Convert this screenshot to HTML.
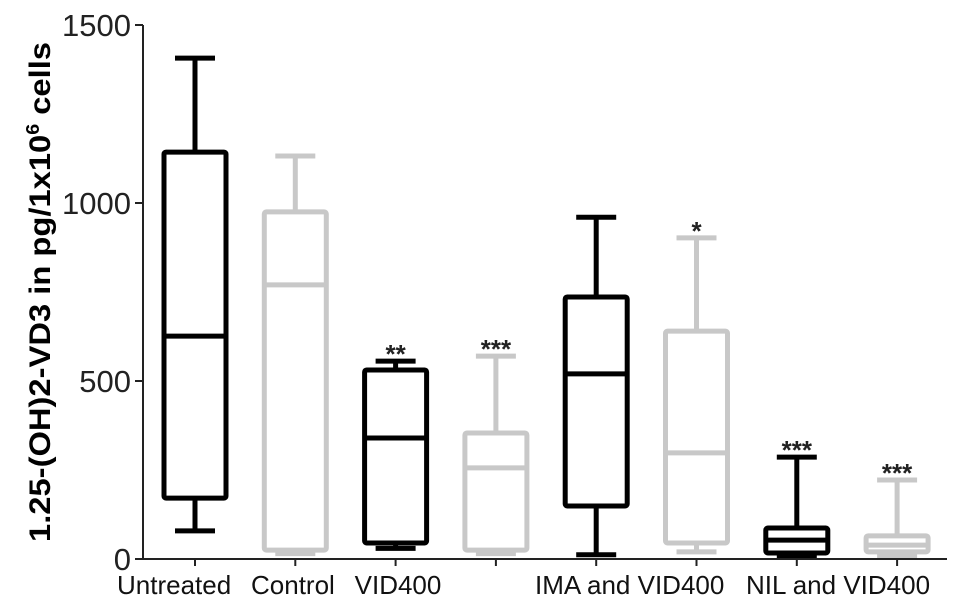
<!DOCTYPE html>
<html><head><meta charset="utf-8"><style>
body{margin:0;background:#fff;}
svg{display:block;font-family:"Liberation Sans",Arial,sans-serif;}
</style></head><body>
<svg id="chart" width="969" height="611">
<g id="axes"></g><g id="boxes"></g>
<text transform="translate(50,292) rotate(-90)" text-anchor="middle" font-size="30" font-weight="bold" textLength="500" lengthAdjust="spacingAndGlyphs">1.25-(OH)2-VD3 in pg/1x10<tspan dy="-11" font-size="18">6</tspan><tspan dy="11"> cells</tspan></text>
<g font-size="26" fill="#111">
<text x="117" y="594">Untreated</text>
<text x="251" y="594">Control</text>
<text x="398" y="594" text-anchor="middle">VID400</text>
<text x="535" y="594">IMA and VID400</text>
<text x="746" y="594">NIL and VID400</text>
</g>
</svg>
<script>
const groups=["Untreated","Control","VID400","VID400 grey","IMA and VID400","IMA grey","NIL and VID400","NIL grey"];
const maxV=[1407,1132,556,570,960,902,286,222];
const q3V=[1143,975,531,354,736,640,87,65];
const medV=[626,770,340,256,520,298,53,39];
const q1V=[171,25,45,25,149,45,17,20];
const minV=[79,15,30,15,12,20,10,10];
const stars=["","","**","***","","*","***","***"];
const yTicks=[0,500,1000,1500];
const NS="http://www.w3.org/2000/svg";
const y=v=>559-v*0.356;
const x=i=>195+i*100.3;
function mk(p,t,a){const e=document.createElementNS(NS,t);for(const k in a)e.setAttribute(k,a[k]);p.appendChild(e);return e;}
const ax=document.getElementById('axes');
let l=mk(ax,'line',{x1:143,y1:y(1500),x2:143,y2:559,stroke:'#222','stroke-width':2});


l=mk(ax,'line',{x1:143,y1:559,x2:947,y2:559,stroke:'#222','stroke-width':2});


yTicks.forEach(t=>{
 mk(ax,'line',{x1:135,y1:y(t),x2:143,y2:y(t),stroke:'#222','stroke-width':2});
 const tx=mk(ax,'text',{x:131,y:y(t)+11,'text-anchor':'end','font-size':31,fill:'#222'});
 tx.textContent=t;
 
 
});
groups.forEach((g,i)=>mk(ax,'line',{x1:x(i),y1:559,x2:x(i),y2:566,stroke:'#222','stroke-width':2}));
const bx=document.getElementById('boxes');
groups.forEach((g,i)=>{
 const c=i%2?'#c8c8c8':'#000';const cx=x(i);
 const gg=mk(bx,'g',{stroke:c,'stroke-width':5,fill:'none'});
 
 
 mk(gg,'line',{x1:cx,y1:y(maxV[i]),x2:cx,y2:y(q3V[i])});
 mk(gg,'line',{x1:cx,y1:y(q1V[i]),x2:cx,y2:y(minV[i])});
 mk(gg,'line',{x1:cx-20,y1:y(maxV[i]),x2:cx+20,y2:y(maxV[i])});
 mk(gg,'line',{x1:cx-20,y1:y(minV[i]),x2:cx+20,y2:y(minV[i])});
 mk(gg,'rect',{x:cx-31,y:y(q3V[i]),width:62,height:y(q1V[i])-y(q3V[i]),rx:2});
 mk(gg,'line',{x1:cx-31,y1:y(medV[i]),x2:cx+31,y2:y(medV[i])});
 if(stars[i]){const s=mk(bx,'text',{x:cx,y:y(maxV[i])+2,'text-anchor':'middle','font-size':26,'font-weight':'bold',fill:'#222'});
  s.textContent=stars[i];
  
  }
});
</script>
</body></html>
